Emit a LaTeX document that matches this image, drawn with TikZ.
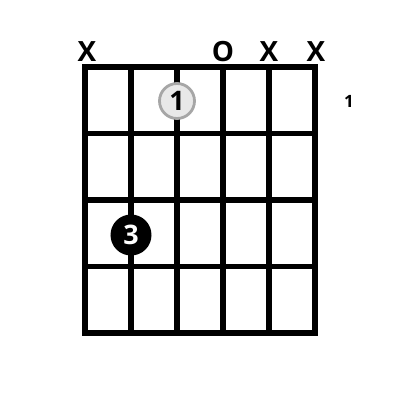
\documentclass[tikz,border=0pt]{standalone}
\usepackage{fontspec}
\setmainfont{Open Sans}
\begin{document}
\begin{tikzpicture}[x=1bp,y=-1bp,
  gridline/.style={line width=5.5bp,line cap=rect},
  stringmark/.style={font=\fontsize{28}{28}\selectfont\bfseries,inner sep=0pt},
  openfinger/.style={circle,draw=black!35,fill=black!9,line width=2.8bp,minimum size=35bp,inner sep=0pt,font=\fontsize{27}{27}\selectfont\bfseries},
  closedfinger/.style={circle,fill=black,minimum size=41bp,inner sep=0pt,text=white,font=\fontsize{27}{27}\selectfont\bfseries},
  fretlabel/.style={font=\fontsize{17}{17}\selectfont\bfseries,inner sep=0pt}]
\useasboundingbox (0,0) rectangle (400,400);
\fill[white] (0,0) rectangle (400,400);
% strings
\foreach \i in {0,...,5} {
  \draw[gridline] ({85+46*\i},67) -- ({85+46*\i},333);
}
% frets
\foreach \j in {0,...,4} {
  \draw[gridline] (85,{67+66.5*\j}) -- (315,{67+66.5*\j});
}
% string marks
\node[stringmark] (m1) at (87,52) {X};
\node[stringmark] (m4) at (223,52) {O};
\node[stringmark] (m5) at (269,52) {X};
\node[stringmark] (m6) at (316,52) {X};
% fingers
\node[openfinger] (f1) at (177,101) {1};
\node[closedfinger] (f3) at (131,235) {3};
% fret number
\node[fretlabel] (fr) at (349,101) {1};
\end{tikzpicture}
\end{document}
